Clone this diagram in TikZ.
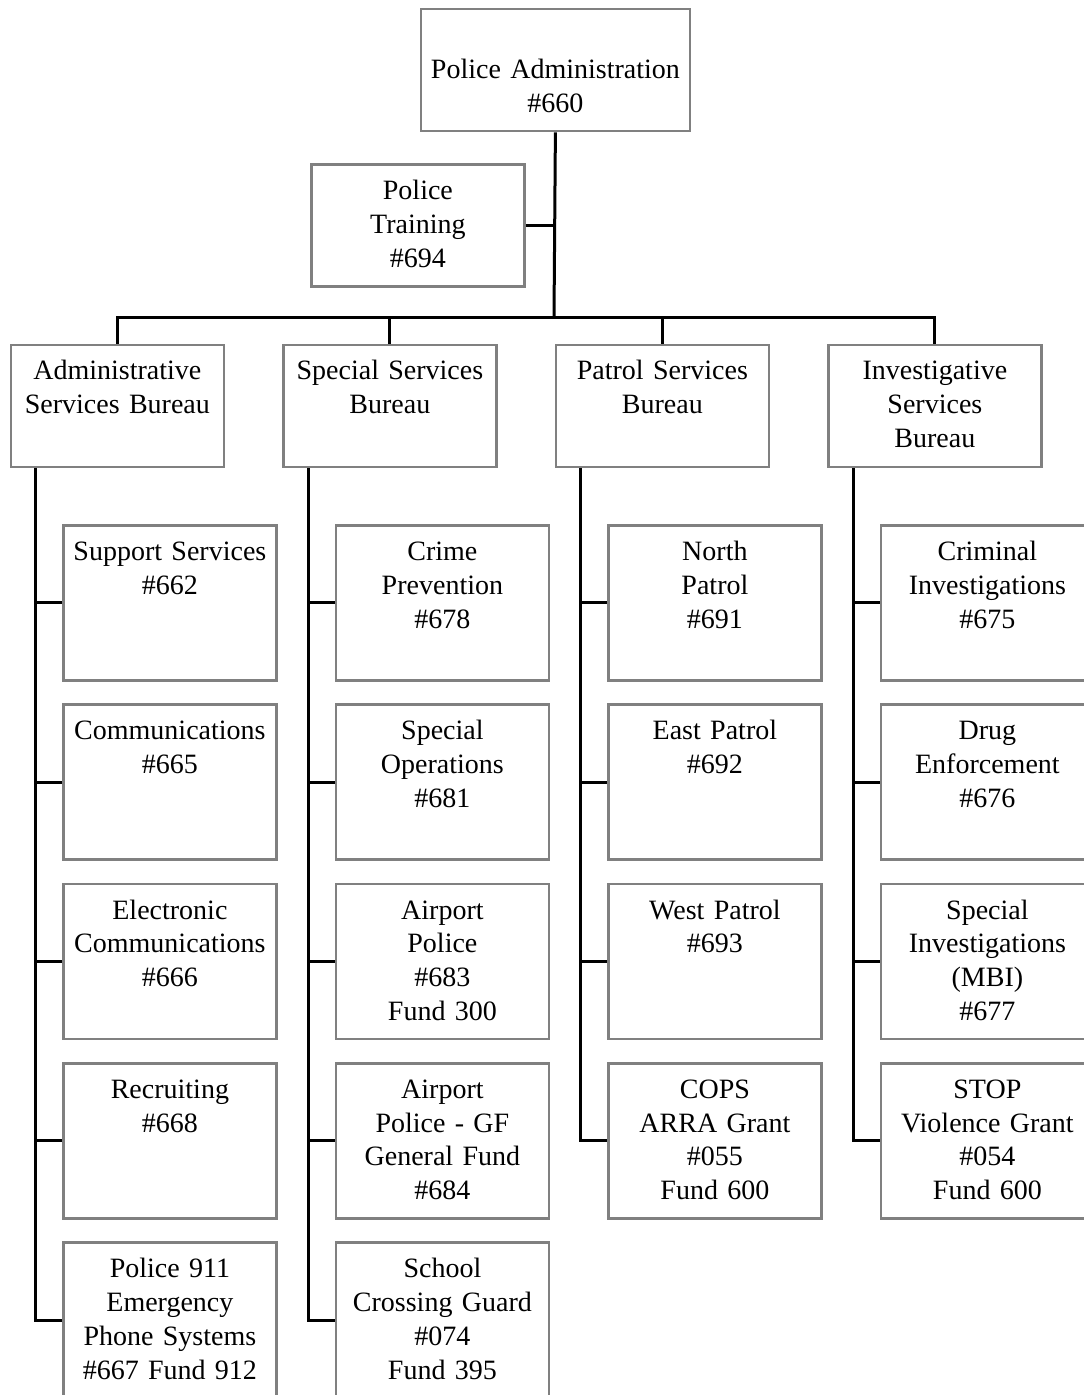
\documentclass[tikz,border=0pt]{standalone}
\usepackage{fontspec}
\setmainfont[WordSpace=0.75]{Liberation Serif}
\usetikzlibrary{positioning}
\definecolor{boxgray}{RGB}{128,128,128}

\begin{document}
\begin{tikzpicture}[
  x=1pt, y=-1pt,
  unit/.style={draw=boxgray, line width=2.8pt, anchor=north west, inner sep=0pt,
    text width=213pt, align=center, font=\fontsize{28pt}{33.8pt}\selectfont,
    text height=35pt, text depth=120pt},
  bureau/.style={unit, text depth=87pt},
  link/.style={line width=3pt},
]
  \useasboundingbox (0,0) rectangle (1084,1395);

  % top of the chart
  \node[unit, text width=269pt, text height=70pt, text depth=52pt] (adm) at (419.5,7.5) {Police Administration\\\#660};
  \node[bureau] (trn) at (310,163) {Police\\Training\\\#694};
  \coordinate (bus) at (554,317);

  % bureaus
  \node[bureau] (asb) at (9.5,343.5)  {Administrative\\Services Bureau};
  \node[bureau] (ssb) at (282,343.5)  {Special Services\\Bureau};
  \node[bureau] (psb) at (554.5,343.5) {Patrol Services\\Bureau};
  \node[bureau] (isb) at (827,343.5)  {Investigative\\Services\\Bureau};

  \draw[link] (adm.south) -- (bus);
  \draw[link] (trn.east) -- (trn.east -| bus);
  \draw[link] (asb.north) |- (bus) -| (isb.north);
  \draw[link] (ssb.north) -- (ssb.north |- bus);
  \draw[link] (psb.north) -- (psb.north |- bus);

  % units under each bureau
  \foreach \txt [count=\i] in {{Support Services\\\#662}, {Communications\\\#665},
      {Electronic\\Communications\\\#666}, {Recruiting\\\#668},
      {Police 911\\Emergency\\Phone Systems\\\#667 Fund 912}} {
    \node[unit] (asb\i) at (62,{524+179.3*(\i-1)}) {\txt};
    \draw[link] (asb.south west) ++(26,0) |- (asb\i.west);
  }
  \foreach \txt [count=\i] in {{Crime\\Prevention\\\#678}, {Special\\Operations\\\#681},
      {Airport\\Police\\\#683\\Fund 300}, {Airport\\Police - GF\\General Fund\\\#684},
      {School\\Crossing Guard\\\#074\\Fund 395}} {
    \node[unit] (ssb\i) at (334.5,{524+179.3*(\i-1)}) {\txt};
    \draw[link] (ssb.south west) ++(26,0) |- (ssb\i.west);
  }
  \foreach \txt [count=\i] in {{North\\Patrol\\\#691}, {East Patrol\\\#692},
      {West Patrol\\\#693}, {COPS\\ARRA Grant\\\#055\\Fund 600}} {
    \node[unit] (psb\i) at (607,{524+179.3*(\i-1)}) {\txt};
    \draw[link] (psb.south west) ++(26,0) |- (psb\i.west);
  }
  \foreach \txt [count=\i] in {{Criminal\\Investigations\\\#675}, {Drug\\Enforcement\\\#676},
      {Special\\Investigations\\(MBI)\\\#677}, {STOP\\Violence Grant\\\#054\\Fund 600}} {
    \node[unit] (isb\i) at (879.5,{524+179.3*(\i-1)}) {\txt};
    \draw[link] (isb.south west) ++(26,0) |- (isb\i.west);
  }
\end{tikzpicture}
\end{document}
